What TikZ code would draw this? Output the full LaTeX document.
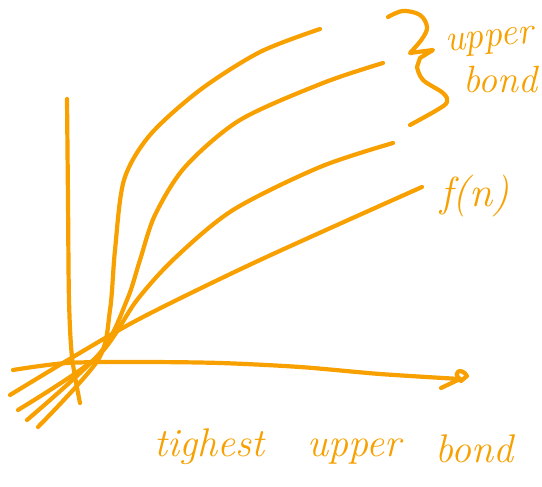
\documentclass[tikz,border=0pt]{standalone}
\definecolor{pen}{RGB}{247,160,0}
\begin{document}
\begin{tikzpicture}[x=1pt,y=-1pt,line width=4.2pt,line cap=round,line join=round]
 \path[use as bounding box] (0,0) rectangle (542,487);
 % axes
 \draw[pen] plot[smooth] coordinates {(67,99) (68,200) (69,300) (72,357) (80,403)};
 \draw[pen] plot[smooth] coordinates {(13,370) (67,363) (140,362) (220,363) (300,367) (380,374) (460,379)};
 \draw[pen] (441,388) -- (460,379) .. controls (451,372) and (462,367) .. (467,376) -- (461,381);
 % growth curves
 \draw[pen] plot[smooth] coordinates {(38,427) (98,360) (110,310) (115,250) (124,180) (150,135) (200,90) (260,52) (320,29)};
 \draw[pen] plot[smooth] coordinates {(27,420) (100,353) (127,300) (140,260) (155,215) (185,167) (240,120) (323,83) (383,63)};
 \draw[pen] plot[smooth] coordinates {(18,410) (97,357) (137,300) (175,258) (233,210) (320,167) (393,143)};
 \draw[pen] plot[smooth] coordinates {(10,395) (73,357) (143,317) (260,260) (422,187)};
 % brace
 \draw[pen] plot[smooth,tension=.6] coordinates {(388,17) (403,11) (420,15) (427,27) (422,39) (410,53)} -- (433,50) -- (420,58)
   -- plot[smooth,tension=.6] coordinates {(417,67) (423,80) (443,93) (447,102) (437,110) (410,125)};
 % labels
 \node[pen,inner sep=0,anchor=base west,rotate=6,font=\fontsize{38}{42}\selectfont\itshape] (upA) at (444,52) {upper};
 \node[pen,inner sep=0,anchor=base west,font=\fontsize{38}{42}\selectfont\itshape] (bdA) at (461,93) {bond};
 \node[pen,inner sep=0,anchor=base west,font=\fontsize{42}{46}\selectfont\itshape] (fn) at (438,207) {f(n)};
 \node[pen,inner sep=0,anchor=base west,font=\fontsize{40}{44}\selectfont\itshape] (tigh) at (152,456) {tighest};
 \node[pen,inner sep=0,anchor=base west,font=\fontsize{40}{44}\selectfont\itshape] (upB) at (305,456) {upper};
 \node[pen,inner sep=0,anchor=base west,font=\fontsize{40}{44}\selectfont\itshape] (bdB) at (433,462) {bond};
\end{tikzpicture}
\end{document}
